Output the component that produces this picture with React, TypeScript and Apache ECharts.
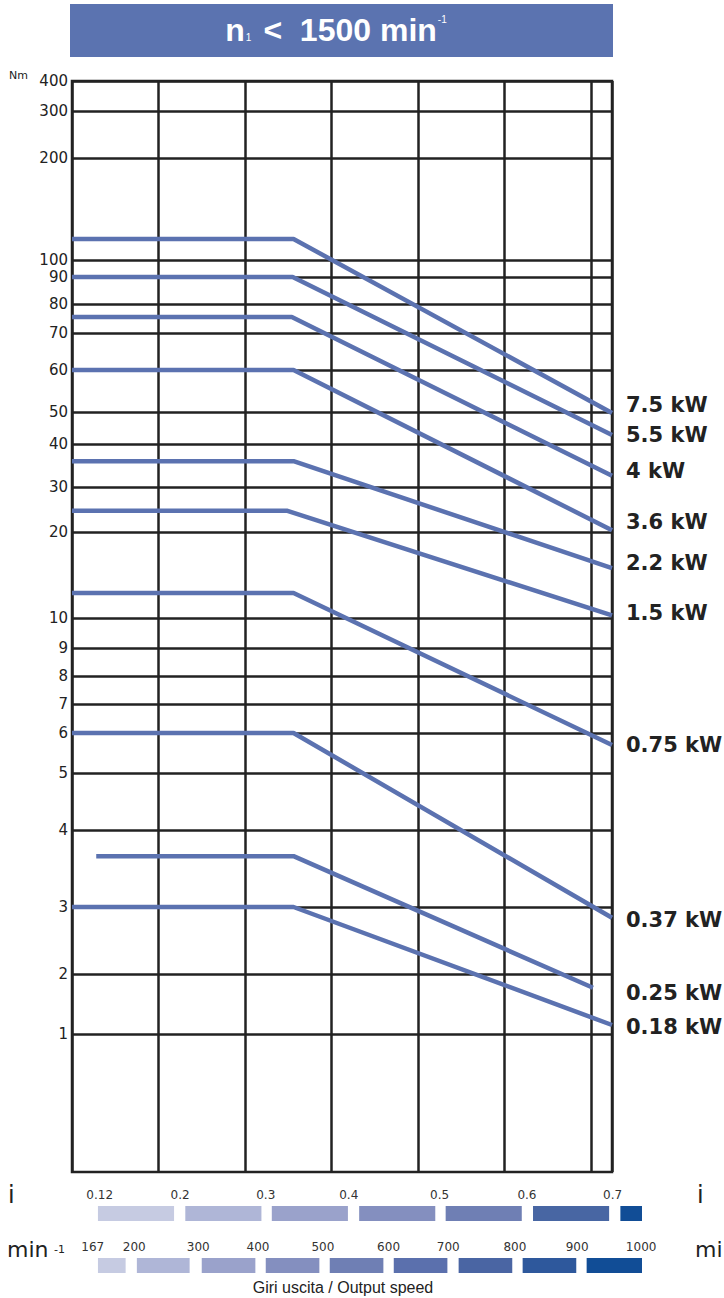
import React, { useEffect, useRef } from "react";
import * as echarts from "echarts";

// ---- Torque axis (non-uniform scale of the original nomogram) ----
const torqueTicks = [1, 2, 3, 4, 5, 6, 7, 8, 9, 10, 20, 30, 40, 50, 60, 70, 80, 90, 100, 200, 300, 400];
const torqueTickAxisPos = [138, 198, 265, 342, 399, 439, 468, 496, 524, 554, 640, 685, 728, 760, 802, 839, 868, 895, 912, 1014, 1061, 1091];
const axisTop = 1091;

// ---- Motor power curves ----
const motors = ["7.5 kW", "5.5 kW", "4 kW", "3.6 kW", "2.2 kW", "1.5 kW", "0.75 kW", "0.37 kW", "0.25 kW", "0.18 kW"];
const flatTorque = [120.6, 90, 75.5, 60, 36, 24.7, 12.9, 6, 3.66, 3];
const endTorque = [49.7, 42.8, 32.6, 20.4, 15.8, 10.3, 5.7, 2.84, 1.77, 1.15];
const startCol = [0, 0, 0, 0, 0, 0, 0, 0, 0.28, 0];
const bendCol = [2.56, 2.55, 2.54, 2.56, 2.56, 2.49, 2.56, 2.56, 2.56, 2.56];
const endCol = [6.24, 6.24, 6.24, 6.24, 6.24, 6.24, 6.24, 6.24, 6.02, 6.24];
const labelShiftY = [-8, 0, -5, -8, -5, -2, 0, 2, 5, 2];
const labelShiftX = [0, 0, 0, 0, 0, 0, 0, 0, 19, 0];

// ---- Bottom scales ----
const ratioLabels = ["0.12", "0.2", "0.3", "0.4", "0.5", "0.6", "0.7"];
const ratioLabelCol = [0.32, 1.25, 2.24, 3.2, 4.25, 5.26, 6.25];
const ratioBands = [[0.3, 1.18], [1.31, 2.19], [2.31, 3.19], [3.32, 4.2], [4.32, 5.2], [5.33, 6.21], [6.34, 6.59]];
const ratioShades = ["#c6cbe2", "#afb6d7", "#9aa2cb", "#848fbf", "#6f7fb4", "#4866a3", "#114d96"];

const speedLabels = ["167", "200", "300", "400", "500", "600", "700", "800", "900", "1000"];
const speedLabelCol = [0.24, 0.72, 1.46, 2.15, 2.9, 3.66, 4.35, 5.12, 5.84, 6.58];
const speedBands = [[0.3, 0.62], [0.75, 1.36], [1.5, 2.12], [2.24, 2.86], [2.98, 3.6], [3.72, 4.34], [4.47, 5.09], [5.21, 5.83], [5.95, 6.59]];
const speedShades = ["#c6cbe2", "#afb6d7", "#9aa2cb", "#848fbf", "#6f7fb4", "#5b70ad", "#4a65a3", "#2e589c", "#114d96"];

function torqueToAxis(t: number): number {
  if (t <= torqueTicks[0]) return (t / torqueTicks[0]) * torqueTickAxisPos[0];
  for (let i = 0; i < torqueTicks.length - 1; i++) {
    const a = torqueTicks[i], b = torqueTicks[i + 1];
    if (t >= a && t <= b) {
      return torqueTickAxisPos[i] + ((t - a) / (b - a)) * (torqueTickAxisPos[i + 1] - torqueTickAxisPos[i]);
    }
  }
  return axisTop;
}

const FONT = "DejaVu Sans";
const GRID = "#222";
const BLUE = "#5b72b0";

export default function App() {
  const ref = useRef<HTMLDivElement>(null);
  useEffect(() => {
    if (!ref.current) return;
    const chart = echarts.init(ref.current, null, { renderer: "svg" });

    const curveSeries = motors.map((name, i) => ({
      type: "line",
      name,
      xAxisIndex: 0,
      yAxisIndex: 0,
      symbol: "none",
      lineStyle: { color: BLUE, width: 4.5 },
      data: [
        [startCol[i], torqueToAxis(flatTorque[i])],
        [bendCol[i], torqueToAxis(flatTorque[i])],
        [endCol[i], torqueToAxis(endTorque[i])],
      ],
      endLabel: {
        show: true,
        formatter: name,
        fontFamily: FONT,
        fontWeight: "bold",
        fontSize: 21,
        color: GRID,
        distance: 14,
        offset: [labelShiftX[i], labelShiftY[i]],
      },
      z: 3,
    }));

    const bandData = [
      ...ratioBands.map((b, i) => [b[0], b[1], 0, i]),
      ...speedBands.map((b, i) => [b[0], b[1], 1, i]),
    ];

    const option: any = {
      animation: false,
      grid: [
        { left: 72, top: 81, width: 540, height: 1091, show: true, borderColor: GRID, borderWidth: 2.5, backgroundColor: "transparent" },
        { left: 72, top: 1180, width: 570, height: 100, show: false },
      ],
      xAxis: [
        {
          type: "value", gridIndex: 0, min: 0, max: 6.24, interval: 1,
          axisLine: { show: false }, axisTick: { show: false }, axisLabel: { show: false },
          splitLine: { show: true, lineStyle: { color: GRID, width: 2.5 } },
        },
        { type: "value", gridIndex: 1, min: 0, max: 6.59, show: false },
      ],
      yAxis: [
        {
          type: "value", gridIndex: 0, min: 0, max: axisTop,
          axisLine: { show: false },
          axisTick: { show: false, customValues: torqueTickAxisPos },
          axisLabel: {
            show: true,
            customValues: torqueTickAxisPos,
            margin: 4,
            fontFamily: FONT,
            fontSize: 15,
            color: GRID,
            padding: [0, 0, 9, 0],
            formatter: (v: number) => {
              const idx = torqueTickAxisPos.indexOf(v);
              return idx >= 0 ? String(torqueTicks[idx]) : "";
            },
          },
          splitLine: { show: true, lineStyle: { color: GRID, width: 2.5 } },
        },
        { type: "value", gridIndex: 1, min: 0, max: 100, inverse: true, show: false },
      ],
      graphic: [
        { type: "rect", shape: { x: 70, y: 4, width: 543, height: 53 }, style: { fill: "#5b73b0" } },
        {
          type: "text", x: 336, y: 30,
          style: {
            text: "{a|n}{s|1}{a|<  1500 min}{p|-1}",
            align: "center", verticalAlign: "middle",
            rich: {
              a: { fontFamily: "Liberation Sans", fontWeight: "bold", fontSize: 32, fill: "#fff", lineHeight: 34 },
              s: { fontFamily: "Liberation Sans", fontSize: 10, fill: "#fff", lineHeight: 10, verticalAlign: "bottom", padding: [0, 12, 5, 1] },
              p: { fontFamily: "Liberation Sans", fontSize: 10, fill: "#fff", lineHeight: 10, verticalAlign: "top", padding: [1, 0, 0, 1] },
            },
          },
        },
        { type: "text", x: 9, y: 70, style: { text: "Nm", fontFamily: FONT, fontSize: 11, fill: GRID } },
        { type: "text", x: 8, y: 1183, style: { text: "i", fontFamily: FONT, fontSize: 24, fill: GRID } },
        { type: "text", x: 697, y: 1183, style: { text: "i", fontFamily: FONT, fontSize: 24, fill: GRID } },
        { type: "text", x: 7, y: 1238, style: { text: "min", fontFamily: FONT, fontSize: 22, fill: GRID } },
        { type: "text", x: 54, y: 1244, style: { text: "-1", fontFamily: FONT, fontSize: 11, fill: GRID } },
        { type: "text", x: 695, y: 1238, style: { text: "mi", fontFamily: FONT, fontSize: 22, fill: GRID } },
        {
          type: "text", x: 343, y: 1287,
          style: { text: "Giri uscita / Output speed", fontFamily: "Liberation Sans", fontSize: 16, fill: GRID, align: "center", verticalAlign: "middle" },
        },
      ],
      series: [
        ...curveSeries,
        {
          type: "custom",
          xAxisIndex: 1,
          yAxisIndex: 1,
          data: bandData,
          renderItem: (params: any, api: any) => {
            const row = api.value(2);
            const shade = api.value(3);
            const top = row === 0 ? 26 : 78;
            const p0 = api.coord([api.value(0), top]);
            const p1 = api.coord([api.value(1), top + 15]);
            return {
              type: "rect",
              shape: { x: p0[0], y: p0[1], width: p1[0] - p0[0], height: p1[1] - p0[1] },
              style: { fill: row === 0 ? ratioShades[shade] : speedShades[shade] },
            };
          },
        },
        {
          type: "custom",
          xAxisIndex: 1,
          yAxisIndex: 1,
          data: ratioLabelCol.map((c) => [c, 15]),
          renderItem: (params: any, api: any) => {
            const p = api.coord([api.value(0), api.value(1)]);
            return {
              type: "text",
              x: p[0], y: p[1],
              style: { text: ratioLabels[params.dataIndex], fontFamily: FONT, fontSize: 12, fill: "#333", align: "center", verticalAlign: "middle" },
            };
          },
        },
        {
          type: "custom",
          xAxisIndex: 1,
          yAxisIndex: 1,
          data: speedLabelCol.map((c) => [c, 67]),
          renderItem: (params: any, api: any) => {
            const p = api.coord([api.value(0), api.value(1)]);
            return {
              type: "text",
              x: p[0], y: p[1],
              style: { text: speedLabels[params.dataIndex], fontFamily: FONT, fontSize: 12, fill: "#333", align: "center", verticalAlign: "middle" },
            };
          },
        },
      ],
    };
    chart.setOption(option);
    return () => chart.dispose();
  }, []);
  return <div ref={ref} style={{ position: "absolute", left: 0, top: 0, width: 724, height: 1298 }} />;
}
